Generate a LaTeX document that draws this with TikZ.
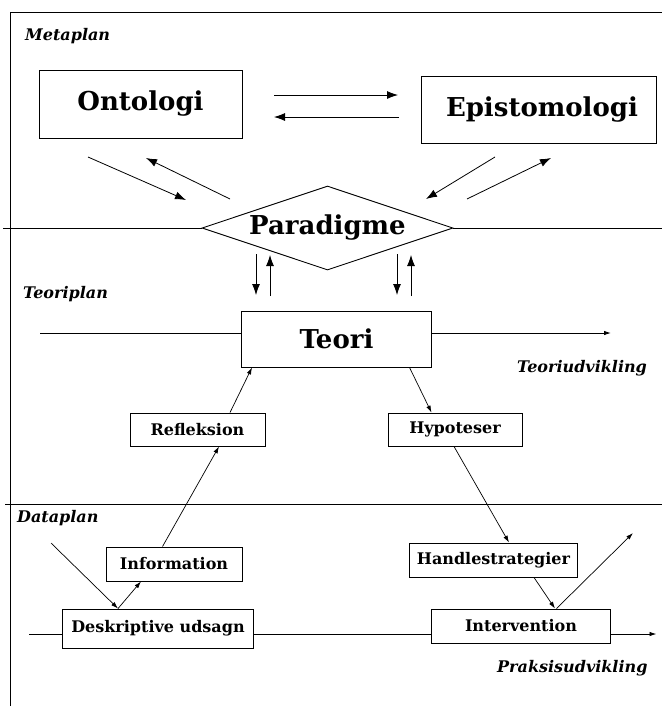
\documentclass[tikz,border=0pt]{standalone}
\usepackage{fontspec}
\setmainfont{DejaVu Serif}
\usetikzlibrary{positioning,shapes.geometric,arrows.meta}

\tikzset{
  bigbox/.style={draw, line width=0.9pt, inner sep=0pt, font=\fontsize{26}{30}\selectfont\bfseries},
  smallbox/.style={draw, line width=0.9pt, inner sep=0pt, font=\fontsize{16}{19}\selectfont\bfseries},
  planlabel/.style={anchor=west, inner sep=0pt, font=\fontsize{16}{19}\selectfont\bfseries\itshape},
  bigarrow/.style={-{Latex[length=11pt,width=8pt]}, line width=0.8pt},
  smallarrow/.style={-{Latex[length=7pt,width=4.5pt]}, line width=0.7pt},
}

\begin{document}
\begin{tikzpicture}[x=1pt,y=-1pt]
\useasboundingbox (0,0) rectangle (662,713);

% frame
\coordinate (FB) at (10.5,706);
\coordinate (FC) at (10.5,12.7);
\coordinate (FR) at (662,12.7);
\draw[line width=0.9pt] (FB) -- (FC) -- (FR);

\node[planlabel] (metaplan) at (25,36) {Metaplan};
\node[planlabel] (teoriplan) at (23,294) {Teoriplan};
\node[planlabel] (dataplan) at (17,518) {Dataplan};
\node[planlabel] (teoriudv) at (517,368) {Teoriudvikling};
\node[planlabel] (praksisudv) at (497,668) {Praksisudvikling};

\node[bigbox, minimum width=203pt, minimum height=68pt] (onto) at (140.5,104) {Ontologi\hspace{14pt}};
\node[bigbox, minimum width=235pt, minimum height=67pt] (epist) at (539,109.5) {\hspace{6pt}Epistomologi};
\node[bigbox, diamond, aspect=3, minimum width=251pt, minimum height=84pt] (para) at (327.5,228) {Paradigme};
\node[bigbox, minimum width=190pt, minimum height=56pt] (teori) at (336.5,339) {Teori};

\node[smallbox, minimum width=135pt, minimum height=33pt] (refl) at (197.5,429.5) {Refleksion};
\node[smallbox, minimum width=134pt, minimum height=33pt] (hypo) at (455,429.5) {Hypoteser};
\node[smallbox, minimum width=136pt, minimum height=34pt] (info) at (174,564) {Information};
\node[smallbox, minimum width=168pt, minimum height=34pt] (handl) at (493.5,560) {Handlestrategier};
\node[smallbox, minimum width=190.5pt, minimum height=39pt] (deskr) at (158,628.5) {Deskriptive udsagn};
\node[smallbox, minimum width=179.5pt, minimum height=34pt] (interv) at (521,626) {Intervention};

% plan lines
\coordinate (ML) at (3.4,228);
\coordinate (MR) at (662,228);
\draw[line width=0.9pt] (ML) -- (para.west);
\draw[line width=0.9pt] (para.east) -- (MR);
\coordinate (DL) at (5,504);
\coordinate (DR) at (662,504);
\draw[line width=0.9pt] (DL) -- (DR);

\coordinate (TL) at (40,333);
\coordinate (TR) at (611,333);
\draw[line width=0.9pt] (TL) -- (TL -| teori.west);
\draw[smallarrow, line width=0.9pt] (TL -| teori.east) -- (TR);

\coordinate (PL) at (29,634);
\coordinate (PR) at (656.5,634);
\draw[line width=0.9pt] (PL) -- (PL -| deskr.west);
\draw[line width=0.9pt] (PL -| deskr.east) -- (PL -| interv.west);
\draw[smallarrow, line width=0.9pt] (PL -| interv.east) -- (PR);

% metaplan arrows
\coordinate (OE1) at (274,95);
\coordinate (OE2) at (398,95);
\coordinate (EO1) at (399,117);
\coordinate (EO2) at (274,117);
\draw[bigarrow] (OE1) -- (OE2);
\draw[bigarrow] (EO1) -- (EO2);

\coordinate (OP1) at (88,157);
\coordinate (OP2) at (186,200);
\coordinate (PO1) at (230,199);
\coordinate (PO2) at (146,158);
\draw[bigarrow] (OP1) -- (OP2);
\draw[bigarrow] (PO1) -- (PO2);

\coordinate (EP1) at (495,157);
\coordinate (EP2) at (426,199);
\coordinate (PE1) at (467,199);
\coordinate (PE2) at (551,158);
\draw[bigarrow] (EP1) -- (EP2);
\draw[bigarrow] (PE1) -- (PE2);

\coordinate (PT1) at (256,254);
\coordinate (PT2) at (256,295);
\coordinate (TP1) at (270,296);
\coordinate (TP2) at (270,255);
\coordinate (PT3) at (397,254);
\coordinate (PT4) at (397,295);
\coordinate (TP3) at (411,296);
\coordinate (TP4) at (411,255);
\draw[bigarrow] (PT1) -- (PT2);
\draw[bigarrow] (TP1) -- (TP2);
\draw[bigarrow] (PT3) -- (PT4);
\draw[bigarrow] (TP3) -- (TP4);

% teoriplan and dataplan arrows
\draw[smallarrow] ([xshift=32.5pt]refl.north) -- ([xshift=-84.5pt]teori.south);
\draw[smallarrow] ([xshift=73pt]teori.south) -- ([xshift=-23.5pt]hypo.north);
\draw[smallarrow] ([xshift=-11.5pt]info.north) -- ([xshift=21.5pt]refl.south);
\draw[smallarrow] ([xshift=-1pt]hypo.south) -- ([xshift=15.5pt]handl.north);

\coordinate (DI) at (51,543);
\draw[smallarrow] (DI) -- ([xshift=-40pt]deskr.north);
\draw[smallarrow] ([xshift=-40pt]deskr.north) -- ([xshift=-33pt]info.south);
\draw[smallarrow] ([xshift=40.5pt]handl.south) -- ([xshift=34pt]interv.north);
\coordinate (IO) at (633,533);
\draw[smallarrow] ([xshift=35.5pt]interv.north) -- (IO);

\end{tikzpicture}
\end{document}
